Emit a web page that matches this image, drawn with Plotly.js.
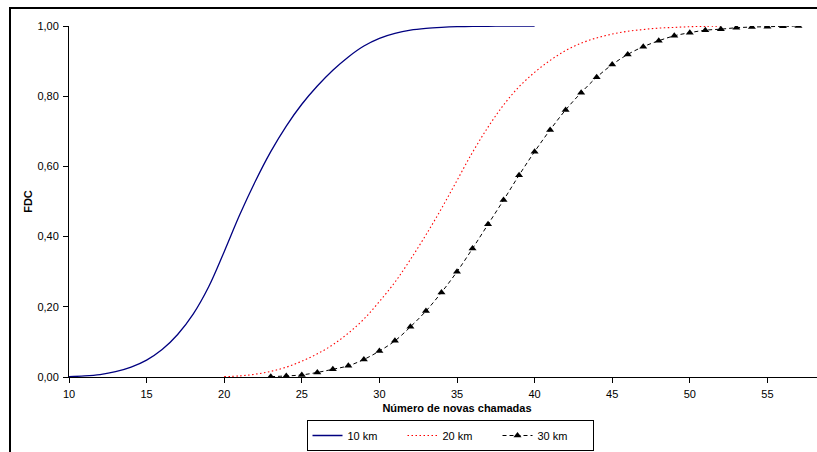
<!DOCTYPE html>
<html>
<head>
<meta charset="utf-8">
<script src="https://cdn.plot.ly/plotly-3.0.1.min.js"></script>
<style>
  html, body { margin: 0; padding: 0; overflow: hidden; background: #fff; width: 817px; height: 452px; }
  #chart { position: absolute; left: 0; top: 0; }
  #frame { position: absolute; left: 9px; top: 7px; width: 900px; height: 600px;
           border-left: 2px solid #000; border-top: 2px solid #000; pointer-events: none; }
</style>
</head>
<body>
<div id="chart"></div>
<div id="frame"></div>
<script>
// 10 km
const x10 = [10,11,12,13,14,15,16,17,18,19,20,21,22,23,24,25,26,27,28,29,30,31,32,33,34,35,36,37,38,39,40];
const y10 = [0.001,0.003,0.007,0.015,0.028,0.048,0.078,0.121,0.179,0.257,0.357,0.462,0.557,0.642,0.715,0.777,0.829,0.874,0.912,0.943,0.965,0.979,0.988,0.993,0.996,0.998,0.999,0.999,1.000,1.000,1.000];
// 20 km
const x20 = [20,21,22,23,24,25,26,27,28,29,30,31,32,33,34,35,36,37,38,39,40,41,42,43,44,45,46,47,48,49,50,51,52];
const y20 = [0.001,0.003,0.008,0.016,0.028,0.045,0.066,0.092,0.125,0.165,0.215,0.270,0.335,0.405,0.480,0.560,0.640,0.712,0.775,0.827,0.868,0.902,0.930,0.951,0.966,0.977,0.985,0.990,0.994,0.996,0.998,0.999,1.000];
// 30 km
const x30 = [23,24,25,26,27,28,29,30,31,32,33,34,35,36,37,38,39,40,41,42,43,44,45,46,47,48,49,50,51,52,53,54,55,56,57];
const y30 = [0.001,0.003,0.006,0.013,0.022,0.032,0.050,0.074,0.103,0.143,0.188,0.241,0.300,0.366,0.435,0.504,0.575,0.642,0.704,0.761,0.810,0.854,0.890,0.919,0.941,0.958,0.972,0.981,0.988,0.991,0.995,0.997,0.998,0.999,1.000];

const seriesNames = ['10 km', '20 km', '30 km'];
const yTicks = [0, 0.2, 0.4, 0.6, 0.8, 1.0];
const xTicks = [10, 15, 20, 25, 30, 35, 40, 45, 50, 55, 60];

const traces = [
  { x: x10, y: y10, name: seriesNames[0], type: 'scatter', mode: 'lines',
    line: { color: '#000080', width: 1.3, shape: 'spline' } },
  { x: x20, y: y20, name: seriesNames[1], type: 'scatter', mode: 'lines',
    line: { color: '#ff0000', width: 1.1, dash: '1.5px,2.5px', shape: 'spline' } },
  { x: x30, y: y30, name: seriesNames[2], type: 'scatter', mode: 'lines+markers',
    line: { color: '#000000', width: 1, dash: '4px,3px', shape: 'spline' },
    marker: { symbol: 'triangle-up', size: 7, color: '#000000' } }
];

const W = 850, H = 462;
const L = 69, R = W - 845, T = 26, B = H - 377;
const plotW = W - L - R;
const plotH = H - T - B;

const layout = {
  width: W, height: H,
  margin: { l: L, r: R, t: T, b: B },
  paper_bgcolor: '#ffffff', plot_bgcolor: '#ffffff',
  font: { family: 'Arial, "Liberation Sans", sans-serif', size: 11, color: '#000' },
  separators: ', ',
  showlegend: true,
  xaxis: {
    range: [10, 60], tickvals: xTicks, ticktext: xTicks.map(String),
    showgrid: false, zeroline: false, showline: true, linecolor: '#000', linewidth: 1,
    ticks: 'outside', ticklen: 5, tickcolor: '#000', ticklabelstandoff: 2,
    tickfont: { size: 11 },
    title: { text: 'Número de novas chamadas', font: { size: 11, weight: 'bold' }, standoff: 5 }
  },
  yaxis: {
    range: [0, 1], tickvals: yTicks, tickformat: '.2f',
    showgrid: false, zeroline: false, showline: true, linecolor: '#000', linewidth: 1,
    ticks: 'outside', ticklen: 5, tickcolor: '#000', ticklabelstandoff: 2,
    tickfont: { size: 11 },
    title: { text: 'FDC', font: { size: 11, weight: 'bold' }, standoff: 2 }
  },
  legend: {
    orientation: 'h', x: (450 - L) / plotW, xanchor: 'center', y: -(420 - 377) / plotH, yanchor: 'top',
    bordercolor: '#000', borderwidth: 1, bgcolor: '#fff',
    font: { size: 11 }, itemwidth: 30, tracegroupgap: 0,
    entrywidth: 50, entrywidthmode: 'pixels'
  }
};

Plotly.newPlot('chart', traces, layout, { displayModeBar: false, staticPlot: true });
</script>
</body>
</html>
